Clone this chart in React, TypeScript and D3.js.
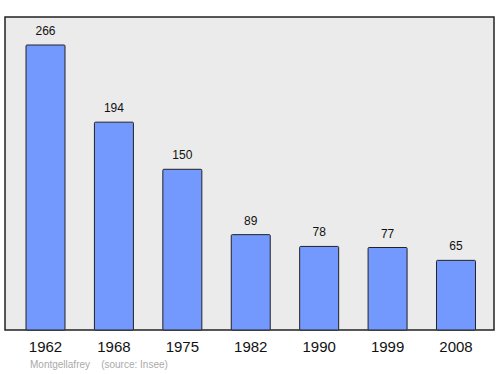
import React from "react";
import * as d3 from "d3";

const years = ["1962", "1968", "1975", "1982", "1990", "1999", "2008"];
const population = [266, 194, 150, 89, 78, 77, 65];
const sourceLabel = "Montgellafrey    (source: Insee)";

export default function App() {
  const W = 500, H = 374;
  const frame = { left: 5, top: 17, right: 494, bottom: 330 };
  const x = d3.scaleBand<string>().domain(years).range([11.3, 490.2]).paddingInner(0.43).paddingOuter(0.215);
  const y = d3.scaleLinear().domain([0, 266]).range([frame.bottom, 45]);
  return (
    <svg width={W} height={H} style={{ position: "absolute", left: 0, top: 0, fontFamily: "'Liberation Sans', Arial, sans-serif" }}>
      <rect x={frame.left} y={frame.top} width={frame.right - frame.left} height={frame.bottom - frame.top} fill="#ebebeb" stroke="#222" strokeWidth={1.5} />
      {years.map((yr, i) => {
        const bx = x(yr)!;
        const v = population[i];
        return (
          <g key={yr}>
            <rect x={bx} y={y(v)} width={x.bandwidth()} height={frame.bottom - y(v)} fill="#7399ff" stroke="#222" strokeWidth={1} rx={1} />
            <text x={bx + x.bandwidth() / 2} y={y(v) - 10} textAnchor="middle" fontSize={12} fill="#111">{v}</text>
            <text x={bx + x.bandwidth() / 2} y={352} textAnchor="middle" fontSize={15} fill="#111">{yr}</text>
          </g>
        );
      })}
      <text x={30} y={368} fontSize={10} fill="#aaa" style={{ whiteSpace: "pre" }}>{sourceLabel}</text>
    </svg>
  );
}
